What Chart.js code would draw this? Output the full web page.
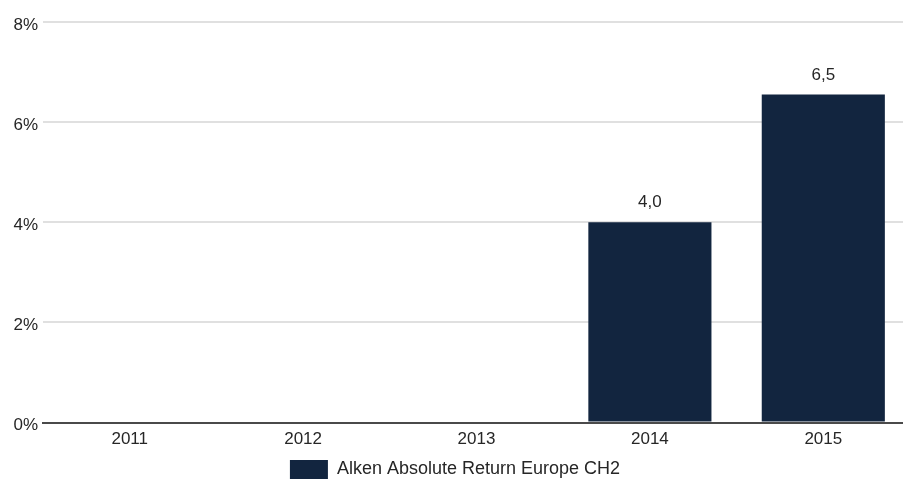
<!DOCTYPE html>
<html>
<head>
<meta charset="utf-8">
<script src="https://cdn.jsdelivr.net/npm/chart.js@4"></script>
<style>
  html, body { margin: 0; padding: 0; background: #fff; overflow: hidden; }
  #wrap { width: 910px; height: 481px; position: relative; }
</style>
</head>
<body>
<div id="wrap"><canvas id="barChart"></canvas></div>
<script>
const years = ['2011', '2012', '2013', '2014', '2015'];
const returns = [null, null, null, 4.0, 6.55];
const seriesName = 'Alken Absolute Return Europe CH2';
const yTicks = [0, 2, 4, 6, 8];

const fontFamily = '"Liberation Sans", Arial, sans-serif';
const textColor = '#262626';

// draw the value above each bar, with a comma as decimal mark
const valueLabels = {
  id: 'valueLabels',
  afterDatasetsDraw(chart) {
    const ctx = chart.ctx;
    const meta = chart.getDatasetMeta(0);
    ctx.save();
    ctx.font = '17px ' + fontFamily;
    ctx.fillStyle = textColor;
    ctx.textAlign = 'center';
    ctx.textBaseline = 'bottom';
    meta.data.forEach((bar, i) => {
      const v = returns[i];
      if (v == null) return;
      ctx.fillText(v.toFixed(1).replace('.', ','), bar.x, bar.y - 11);
    });
    ctx.restore();
  }
};

var ctx = document.getElementById('barChart').getContext('2d');

const chart = new Chart(ctx, {
  type: 'bar',
  data: {
    labels: years,
    datasets: [{
      label: seriesName,
      data: returns,
      backgroundColor: '#12253f',
      borderWidth: 0,
      barPercentage: 0.71,
      categoryPercentage: 1.0
    }]
  },
  options: {
    responsive: true,
    maintainAspectRatio: false,
    animation: false,
    layout: { padding: { top: 22, left: 0, right: 0, bottom: -8 } },
    scales: {
      x: {
        afterFit: s => { s.height += 6; },
        grid: { display: false },
        border: { display: true, color: '#4a4a4a', width: 2 },
        ticks: { color: textColor, font: { family: fontFamily, size: 17 }, padding: -1 }
      },
      y: {
        min: 0,
        max: 8,
        afterFit: s => { s.width = 43; },
        afterBuildTicks: s => { s.ticks = yTicks.map(v => ({ value: v })); },
        grid: { color: '#e0e0e0', lineWidth: 2, drawTicks: false },
        border: { display: false },
        ticks: {
          color: textColor,
          padding: 5,
          labelOffset: 3,
          font: { family: fontFamily, size: 17 },
          callback: v => v + '%'
        }
      }
    },
    plugins: {
      legend: {
        position: 'bottom',
        labels: {
          color: textColor,
          font: { family: fontFamily, size: 18 },
          boxWidth: 38,
          boxHeight: 19,
          padding: 5
        }
      },
      tooltip: { enabled: false }
    }
  },
  plugins: [valueLabels]
});
</script>
</body>
</html>
